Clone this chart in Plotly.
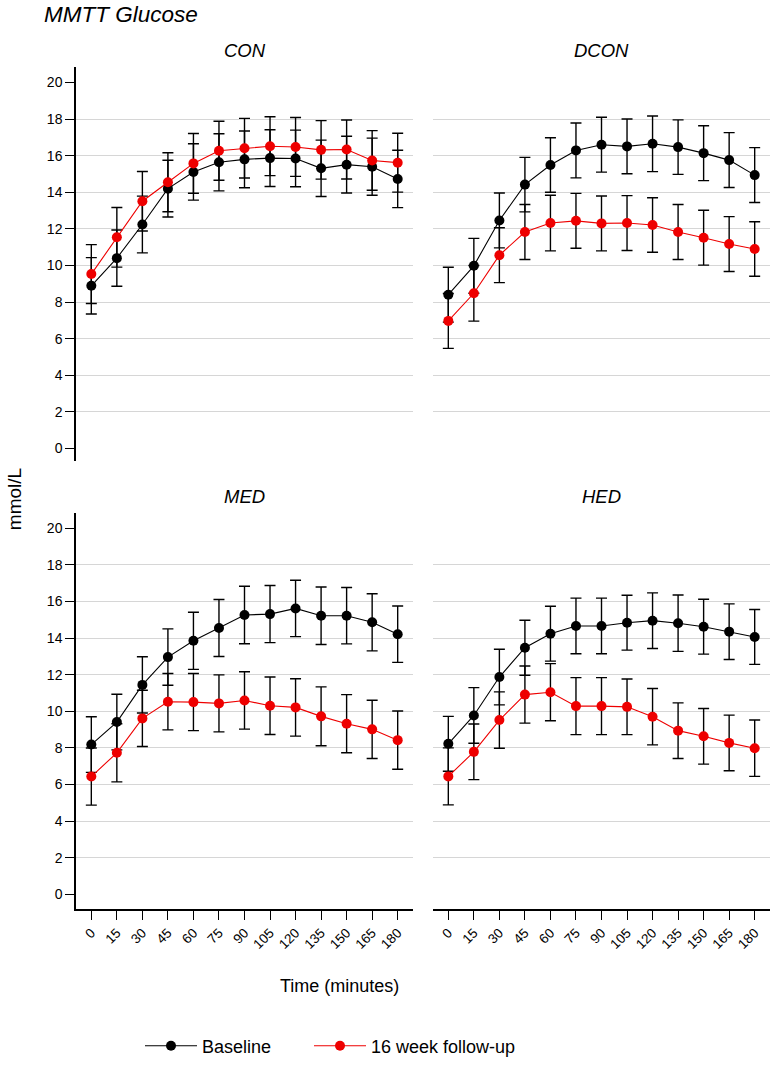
import plotly.graph_objects as go

# ---------------- data ----------------
times = [0, 15, 30, 45, 60, 75, 90, 105, 120, 135, 150, 165, 180]
time_labels = [str(t) for t in times]
panels = ["CON", "DCON", "MED", "HED"]
series_names = ["Baseline", "16 week follow-up"]

con_base = [8.89, 10.40, 12.24, 14.20, 15.11, 15.64, 15.80, 15.87, 15.85, 15.31, 15.51, 15.40, 14.73]
con_base_err = [1.54, 1.54, 1.55, 1.55, 1.54, 1.56, 1.55, 1.55, 1.55, 1.54, 1.55, 1.56, 1.57]
con_fu = [9.53, 11.54, 13.51, 14.55, 15.58, 16.27, 16.41, 16.52, 16.48, 16.32, 16.34, 15.74, 15.62]
con_fu_err = [1.61, 1.63, 1.63, 1.61, 1.63, 1.61, 1.63, 1.61, 1.61, 1.60, 1.61, 1.63, 1.61]

dcon_base = [8.40, 9.98, 12.46, 14.42, 15.49, 16.29, 16.60, 16.51, 16.65, 16.47, 16.14, 15.76, 14.94]
dcon_base_err = [1.50, 1.50, 1.50, 1.49, 1.49, 1.50, 1.50, 1.50, 1.52, 1.49, 1.50, 1.50, 1.50]
dcon_fu = [6.97, 8.48, 10.56, 11.83, 12.32, 12.44, 12.30, 12.32, 12.21, 11.83, 11.52, 11.17, 10.90]
dcon_fu_err = [1.50, 1.52, 1.50, 1.50, 1.52, 1.50, 1.50, 1.50, 1.49, 1.50, 1.50, 1.50, 1.49]

med_base = [8.18, 9.41, 11.44, 12.96, 13.85, 14.55, 15.26, 15.31, 15.62, 15.22, 15.22, 14.86, 14.21]
med_base_err = [1.52, 1.52, 1.54, 1.54, 1.56, 1.56, 1.57, 1.56, 1.54, 1.57, 1.54, 1.56, 1.54]
med_fu = [6.43, 7.73, 9.61, 10.52, 10.50, 10.43, 10.59, 10.30, 10.21, 9.72, 9.32, 9.01, 8.42]
med_fu_err = [1.56, 1.59, 1.54, 1.54, 1.56, 1.56, 1.57, 1.57, 1.57, 1.61, 1.59, 1.59, 1.59]

hed_base = [8.22, 9.77, 11.87, 13.47, 14.24, 14.66, 14.66, 14.84, 14.95, 14.81, 14.62, 14.35, 14.06]
hed_base_err = [1.50, 1.52, 1.52, 1.50, 1.50, 1.52, 1.52, 1.50, 1.52, 1.54, 1.50, 1.52, 1.50]
hed_fu = [6.44, 7.78, 9.52, 10.91, 11.04, 10.28, 10.28, 10.24, 9.70, 8.94, 8.63, 8.27, 7.98]
hed_fu_err = [1.56, 1.52, 1.54, 1.56, 1.56, 1.56, 1.56, 1.52, 1.54, 1.52, 1.52, 1.52, 1.54]

y_ticks = [0, 2, 4, 6, 8, 10, 12, 14, 16, 18, 20]
grid_vals = [2, 4, 6, 8, 10, 12, 14, 16, 18]

# ---------------- figure ----------------
W, H = 770, 1065
FONT = "Liberation Sans, Arial, Helvetica, sans-serif"


def fx(xr):
    return xr / W


def fy(yr):
    return 1 - yr / H


panel_data = [
    (con_base, con_base_err, con_fu, con_fu_err),
    (dcon_base, dcon_base_err, dcon_fu, dcon_fu_err),
    (med_base, med_base_err, med_fu, med_fu_err),
    (hed_base, hed_base_err, hed_fu, hed_fu_err),
]
colors = ["black", "#ee0000"]
legend_ids = ["legend", "legend2"]

fig = go.Figure()
for i, (b, be, f, fe) in enumerate(panel_data):
    ax = "" if i == 0 else str(i + 1)
    for j, (vals, errs) in enumerate([(b, be), (f, fe)]):
        fig.add_trace(go.Scatter(
            x=times, y=vals, xaxis="x" + ax, yaxis="y" + ax,
            mode="lines+markers",
            name=series_names[j],
            legendgroup=series_names[j],
            legend=legend_ids[j],
            showlegend=(i == 0),
            line=dict(color=colors[j], width=1.1),
            marker=dict(color=colors[j], size=10, symbol="circle"),
            error_y=dict(type="data", array=errs, visible=True,
                         color="black", thickness=1.4, width=5.5),
        ))

xdom = [[fx(76), fx(413)], [fx(433), fx(770)]]
ydom = [[fy(464), fy(67)], [fy(914), fy(516)]]
yranges = [[-0.71, 20.87], [-0.80, 20.83]]

leg_common = dict(orientation="h", xanchor="left", yanchor="middle", y=fy(1052),
                  font=dict(size=18, family=FONT), bgcolor="rgba(0,0,0,0)",
                  itemwidth=52)

layout = dict(
    width=W, height=H,
    margin=dict(l=0, r=0, t=0, b=0),
    paper_bgcolor="white", plot_bgcolor="white",
    font=dict(family=FONT, color="black", size=14),
    showlegend=True,
    legend=dict(x=fx(140), **leg_common),
    legend2=dict(x=fx(309), **leg_common),
)

for i in range(4):
    ax = "" if i == 0 else str(i + 1)
    row, col = divmod(i, 2)
    bottom = row == 1
    left = col == 0
    layout["xaxis" + ax] = dict(
        domain=xdom[col], range=[-9, 189], anchor="y" + ax,
        tickmode="array", tickvals=times, ticktext=time_labels,
        showticklabels=bottom, ticks="outside" if bottom else "",
        ticklen=9, tickwidth=1.3, tickcolor="black", tickangle=-45,
        tickfont=dict(size=13.5, family=FONT),
        showline=bottom, linecolor="black", linewidth=1.5,
        showgrid=False, zeroline=False,
    )
    layout["yaxis" + ax] = dict(
        domain=ydom[row], range=yranges[row], anchor="x" + ax,
        tickmode="array", tickvals=y_ticks,
        showticklabels=left, ticks="outside" if left else "",
        ticklen=9, tickwidth=1.3, tickcolor="black",
        tickfont=dict(size=14, family=FONT),
        showline=left, linecolor="black", linewidth=1.5,
        showgrid=False, zeroline=False,
        minor=dict(tickmode="array", tickvals=grid_vals, showgrid=True,
                   gridcolor="#d6d6d6", gridwidth=1, ticks=""),
    )

fig.update_layout(**layout)

annotations = [
    dict(text="<i>MMTT Glucose</i>", x=fx(42), y=1, xanchor="left", yanchor="top",
         font=dict(size=22.5)),
    dict(text="<i>CON</i>", x=fx((76 + 413) / 2), y=fy(51), font=dict(size=18.5)),
    dict(text="<i>DCON</i>", x=fx((433 + 770) / 2), y=fy(51), font=dict(size=18.5)),
    dict(text="<i>MED</i>", x=fx((76 + 413) / 2), y=fy(499), font=dict(size=18.5)),
    dict(text="<i>HED</i>", x=fx((433 + 770) / 2), y=fy(499), font=dict(size=18.5)),
    dict(text="mmol/L", x=fx(14), y=fy(502), textangle=-90, font=dict(size=19)),
    dict(text="Time (minutes)", x=fx(339), y=fy(992), font=dict(size=18)),
]
for a in annotations:
    a.setdefault("xanchor", "center")
    a.setdefault("yanchor", "middle")
    a.update(xref="paper", yref="paper", showarrow=False)
    a["font"]["family"] = FONT
    a["font"]["color"] = "black"
fig.update_layout(annotations=annotations)

# remove the default page margin so the 770x1065 figure fills the window exactly
fig.write_html("out.html",
               config={"displayModeBar": False},
               post_script="document.body.style.margin='0';document.body.style.overflow='hidden';")
